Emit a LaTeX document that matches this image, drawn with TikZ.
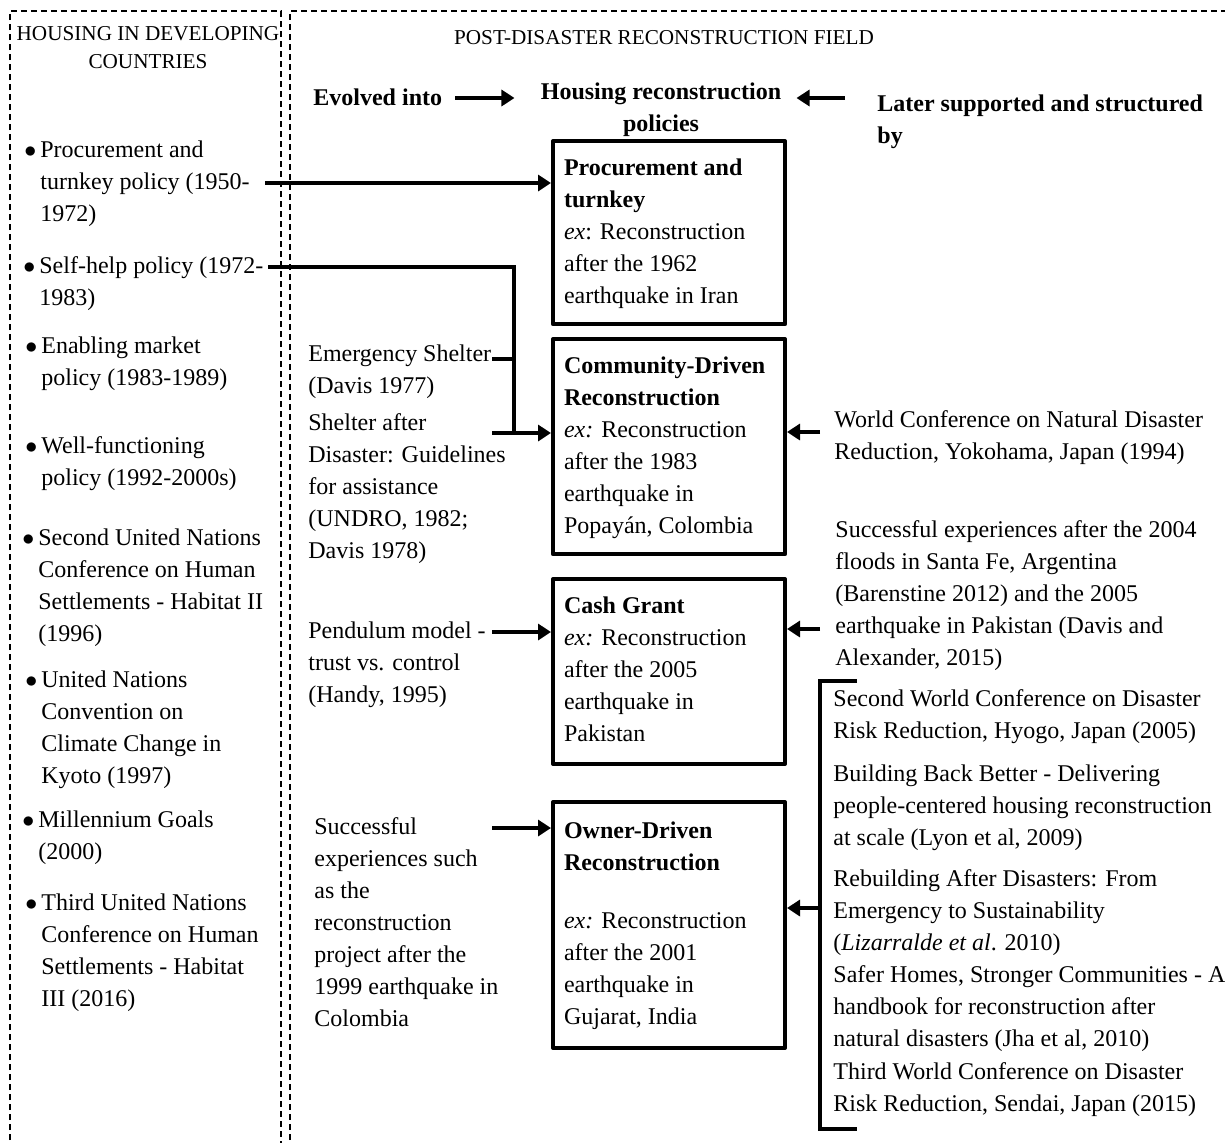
\documentclass[tikz,border=0pt]{standalone}
\usepackage{fontspec}
\setmainfont{Liberation Serif}
\usetikzlibrary{arrows.meta}
\begin{document}
\begin{tikzpicture}[x=0.5pt,y=-0.5pt,
  body/.style={font=\fontsize{12}{16}\selectfont},
  txt/.style={body, inner sep=0pt, align=left, anchor=north west},
  head/.style={font=\fontsize{10.6}{14}\selectfont, inner sep=0pt, align=center, anchor=north},
  lead/.style={font=\fontsize{12}{16}\selectfont\bfseries, inner sep=0pt, align=left, anchor=north west},
  policy/.style={body, draw, line width=2pt, line join=round, text width=105pt,
    inner xsep=5.5pt, inner ysep=5.8pt, align=flush left, anchor=north west},
  frame/.style={line width=0.7pt, dash pattern=on 3pt off 2pt},
  link/.style={line width=1.6pt},
  arr/.style={line width=2pt, -{Triangle[length=6.5pt,width=8pt]}},
]
\useasboundingbox (0,0) rectangle (1225,1142);
\clip (0,0) rectangle (1225,1142);

% dashed frames of the two fields
\draw[frame] (10,1160) -- (10,11) -- (281,11) -- (281,1160);
\draw[frame] (290,1160) -- (290,11) -- (1240,11);

% headers
\node[head] (h1) at (148,20.4) {\strut HOUSING IN DEVELOPING\\COUNTRIES};
\node[head] (h2) at (664,24.4) {\strut POST-DISASTER RECONSTRUCTION FIELD};

\node[lead] (ev) at (313,82.6) {\strut Evolved into};
\node[lead, align=center, anchor=north] (hrp) at (661,76.6) {\strut Housing reconstruction\\policies};
\node[lead] (ls) at (877,88.6) {\strut Later supported and structured\\by};

\coordinate (e1) at (455,98);
\draw[arr, shorten >=13pt] (e1) -- (e1 -| hrp.west);
\coordinate (e2) at (845,98);
\draw[arr, shorten >=7.5pt] (e2) -- (e2 -| hrp.east);

% housing policies in developing countries
\newcommand{\itm}{\llap{$\bullet$\hspace{2pt}}}
\node[txt] (l1) at (40,134.6) {\strut\itm Procurement and\\turnkey policy (1950-\\1972)};
\node[txt] (l2) at (39,250.6) {\strut\itm Self-help policy (1972-\\1983)};
\node[txt] (l3) at (41,330.6) {\strut\itm Enabling market\\policy (1983-1989)};
\node[txt] (l4) at (41,430.6) {\strut\itm Well-functioning\\policy (1992-2000s)};
\node[txt] (l5) at (38,522.6) {\strut\itm Second United Nations\\Conference on Human\\Settlements - Habitat II\\(1996)};
\node[txt] (l6) at (41,664.6) {\strut\itm United Nations\\Convention on\\Climate Change in\\Kyoto (1997)};
\node[txt] (l7) at (38,804.6) {\strut\itm Millennium Goals\\(2000)};
\node[txt] (l8) at (41,887.6) {\strut\itm Third United Nations\\Conference on Human\\Settlements - Habitat\\III (2016)};

% reconstruction policies
\node[policy] (box1) at (551,139) {\strut\textbf{Procurement and}\\\textbf{turnkey}\\\textit{ex}: Reconstruction\\after the 1962\\earthquake in Iran\strut};
\node[policy] (box2) at (551,337) {\strut\textbf{Community-Driven}\\\textbf{Reconstruction}\\\textit{ex:} Reconstruction\\after the 1983\\earthquake in\\Popayán, Colombia\strut};
\node[policy, minimum height=92.5pt] (box3) at (551,577) {\strut\textbf{Cash Grant}\\\textit{ex:} Reconstruction\\after the 2005\\earthquake in\\Pakistan\strut};
\node[policy, minimum height=123pt] (box4) at (551,800) {\strut\textbf{Owner-Driven}\\\textbf{Reconstruction}\\[13pt]\textit{ex:} Reconstruction\\after the 2001\\earthquake in\\Gujarat, India\strut};

% intermediate references
\node[txt] (m1) at (308,338.6) {\strut Emergency Shelter\\(Davis 1977)};
\node[txt] (m2) at (308,407.6) {\strut Shelter after\\Disaster: Guidelines\\for assistance\\(UNDRO, 1982;\\Davis 1978)};
\node[txt] (m3) at (308,615.6) {\strut Pendulum model -\\trust vs. control\\(Handy, 1995)};
\node[txt] (m4) at (314,811.6) {\strut Successful\\experiences such\\as the\\reconstruction\\project after the\\1999 earthquake in\\Colombia};

% supporting frameworks
\node[txt] (r1) at (834,404.6) {\strut World Conference on Natural Disaster\\Reduction, Yokohama, Japan (1994)};
\node[txt] (r2) at (835,514.6) {\strut Successful experiences after the 2004\\floods in Santa Fe, Argentina\\(Barenstine 2012) and the 2005\\earthquake in Pakistan (Davis and\\Alexander, 2015)};
\node[txt] (r3) at (833,683.6) {\strut Second World Conference on Disaster\\Risk Reduction, Hyogo, Japan (2005)};
\node[txt] (r4) at (833,758.6) {\strut Building Back Better - Delivering\\people-centered housing reconstruction\\at scale (Lyon et al, 2009)};
\node[txt] (r5) at (833,863.6) {\strut Rebuilding After Disasters: From\\Emergency to Sustainability\\(\textit{Lizarralde et al}. 2010)};
\node[txt] (r6) at (833,959.6) {\strut Safer Homes, Stronger Communities - A\\handbook for reconstruction after\\natural disasters (Jha et al, 2010)};
\node[txt] (r7) at (833,1056.6) {\strut Third World Conference on Disaster\\Risk Reduction, Sendai, Japan (2015)};

% connectors from the left
\coordinate (s1) at (265,183);
\draw[arr] (s1) -- (s1 -| box1.west);

\coordinate (s2) at (268,267);
\coordinate (j2) at (514,433);
\draw[link] (s2) -| (j2);
\coordinate (s3) at (492,359);
\draw[link] (s3) -- (s3 -| j2);
\coordinate (s4) at (492,433);
\draw[arr] (s4) -- (s4 -| box2.west);

\coordinate (p1) at (492,632);
\draw[arr] (p1) -- (p1 -| box3.west);
\coordinate (o1) at (492,828);
\draw[arr] (o1) -- (o1 -| box4.west);

% connectors from the right
\coordinate (q1) at (820,432);
\draw[arr] (q1) -- (q1 -| box2.east);
\coordinate (q2) at (820,629);
\draw[arr] (q2) -- (q2 -| box3.east);

\draw[link] (857,681) -- (820,681) -- (820,1129) -- (857,1129);
\coordinate (br) at (820,908);
\draw[arr] (br) -- (br -| box4.east);
\end{tikzpicture}
\end{document}
